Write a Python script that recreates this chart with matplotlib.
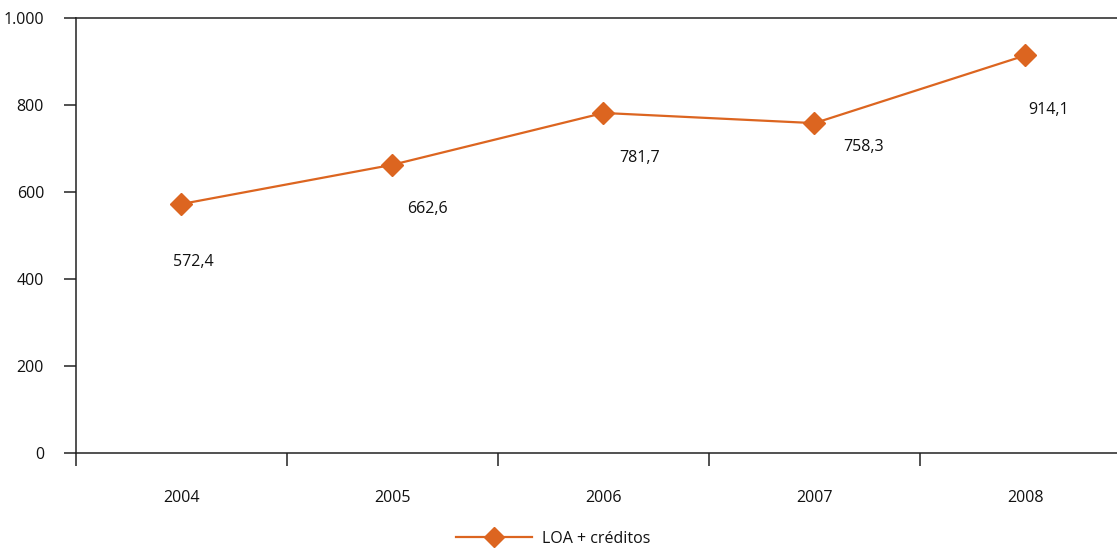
import matplotlib
matplotlib.use("Agg")
import matplotlib.pyplot as plt

plt.rcParams['font.family'] = ['Open Sans', 'DejaVu Sans']

years = ['2004', '2005', '2006', '2007', '2008']
values = [572.4, 662.6, 781.7, 758.3, 914.1]
value_labels = ['572,4', '662,6', '781,7', '758,3', '914,1']
y_ticks = [0, 200, 400, 600, 800, 1000]
y_tick_labels = ['0', '200', '400', '600', '800', '1.000']
series_name = 'LOA + créditos'

orange = '#DC6520'
axis_color = '#222222'
text_color = '#111111'
fs = 11.5

fig = plt.figure(figsize=(11.17, 5.48), dpi=100)
W, H = 1117, 548
# axes run past the right edge of the figure
ax = fig.add_axes([76 / W, (H - 453) / H, 1055 / W, 435 / H])

x = list(range(len(years)))
line, = ax.plot(x, values, color=orange, lw=1.6, marker='D', markersize=11,
                markerfacecolor=orange, markeredgecolor=orange, label=series_name,
                zorder=3)

# value labels under each point (offsets in pixels)
label_offsets = [(12, -58), (35, -44), (36, -45), (49, -24), (23, -55)]
for xi, v, txt, (dx, dy) in zip(x, values, value_labels, label_offsets):
    ax.annotate(txt, (xi, v), xytext=(dx * 0.72, dy * 0.72), textcoords='offset points',
                ha='center', va='center', fontsize=fs, color=text_color)

ax.set_xlim(-0.5, 4.5)
ax.set_ylim(0, 1000)
ax.set_yticks(y_ticks)
ax.set_yticklabels(y_tick_labels)

# category boundaries carry the ticks; labels sit at centres
ax.set_xticks([i - 0.5 for i in range(len(years) + 1)])
ax.set_xticklabels([])
ax.set_xticks(x, minor=True)
ax.set_xticklabels(years, minor=True)
ax.tick_params(axis='x', which='minor', length=0, pad=27, labelsize=fs, labelcolor=text_color)
ax.tick_params(axis='x', which='major', length=9, width=1.1, color=axis_color, direction='out')
ax.tick_params(axis='y', length=9, width=1.1, color=axis_color, direction='out', pad=14,
               labelsize=fs, labelcolor=text_color)

for s in ['left', 'bottom', 'top']:
    ax.spines[s].set_color(axis_color)
    ax.spines[s].set_linewidth(1.1)
ax.spines['right'].set_visible(False)

fig.legend(handles=[line], loc='center', bbox_to_anchor=(553 / W, (H - 539) / H),
           frameon=False, fontsize=fs, handlelength=4.8, handletextpad=0.6,
           markerscale=0.9, labelcolor=text_color)

fig.savefig('out.png', dpi=100)
